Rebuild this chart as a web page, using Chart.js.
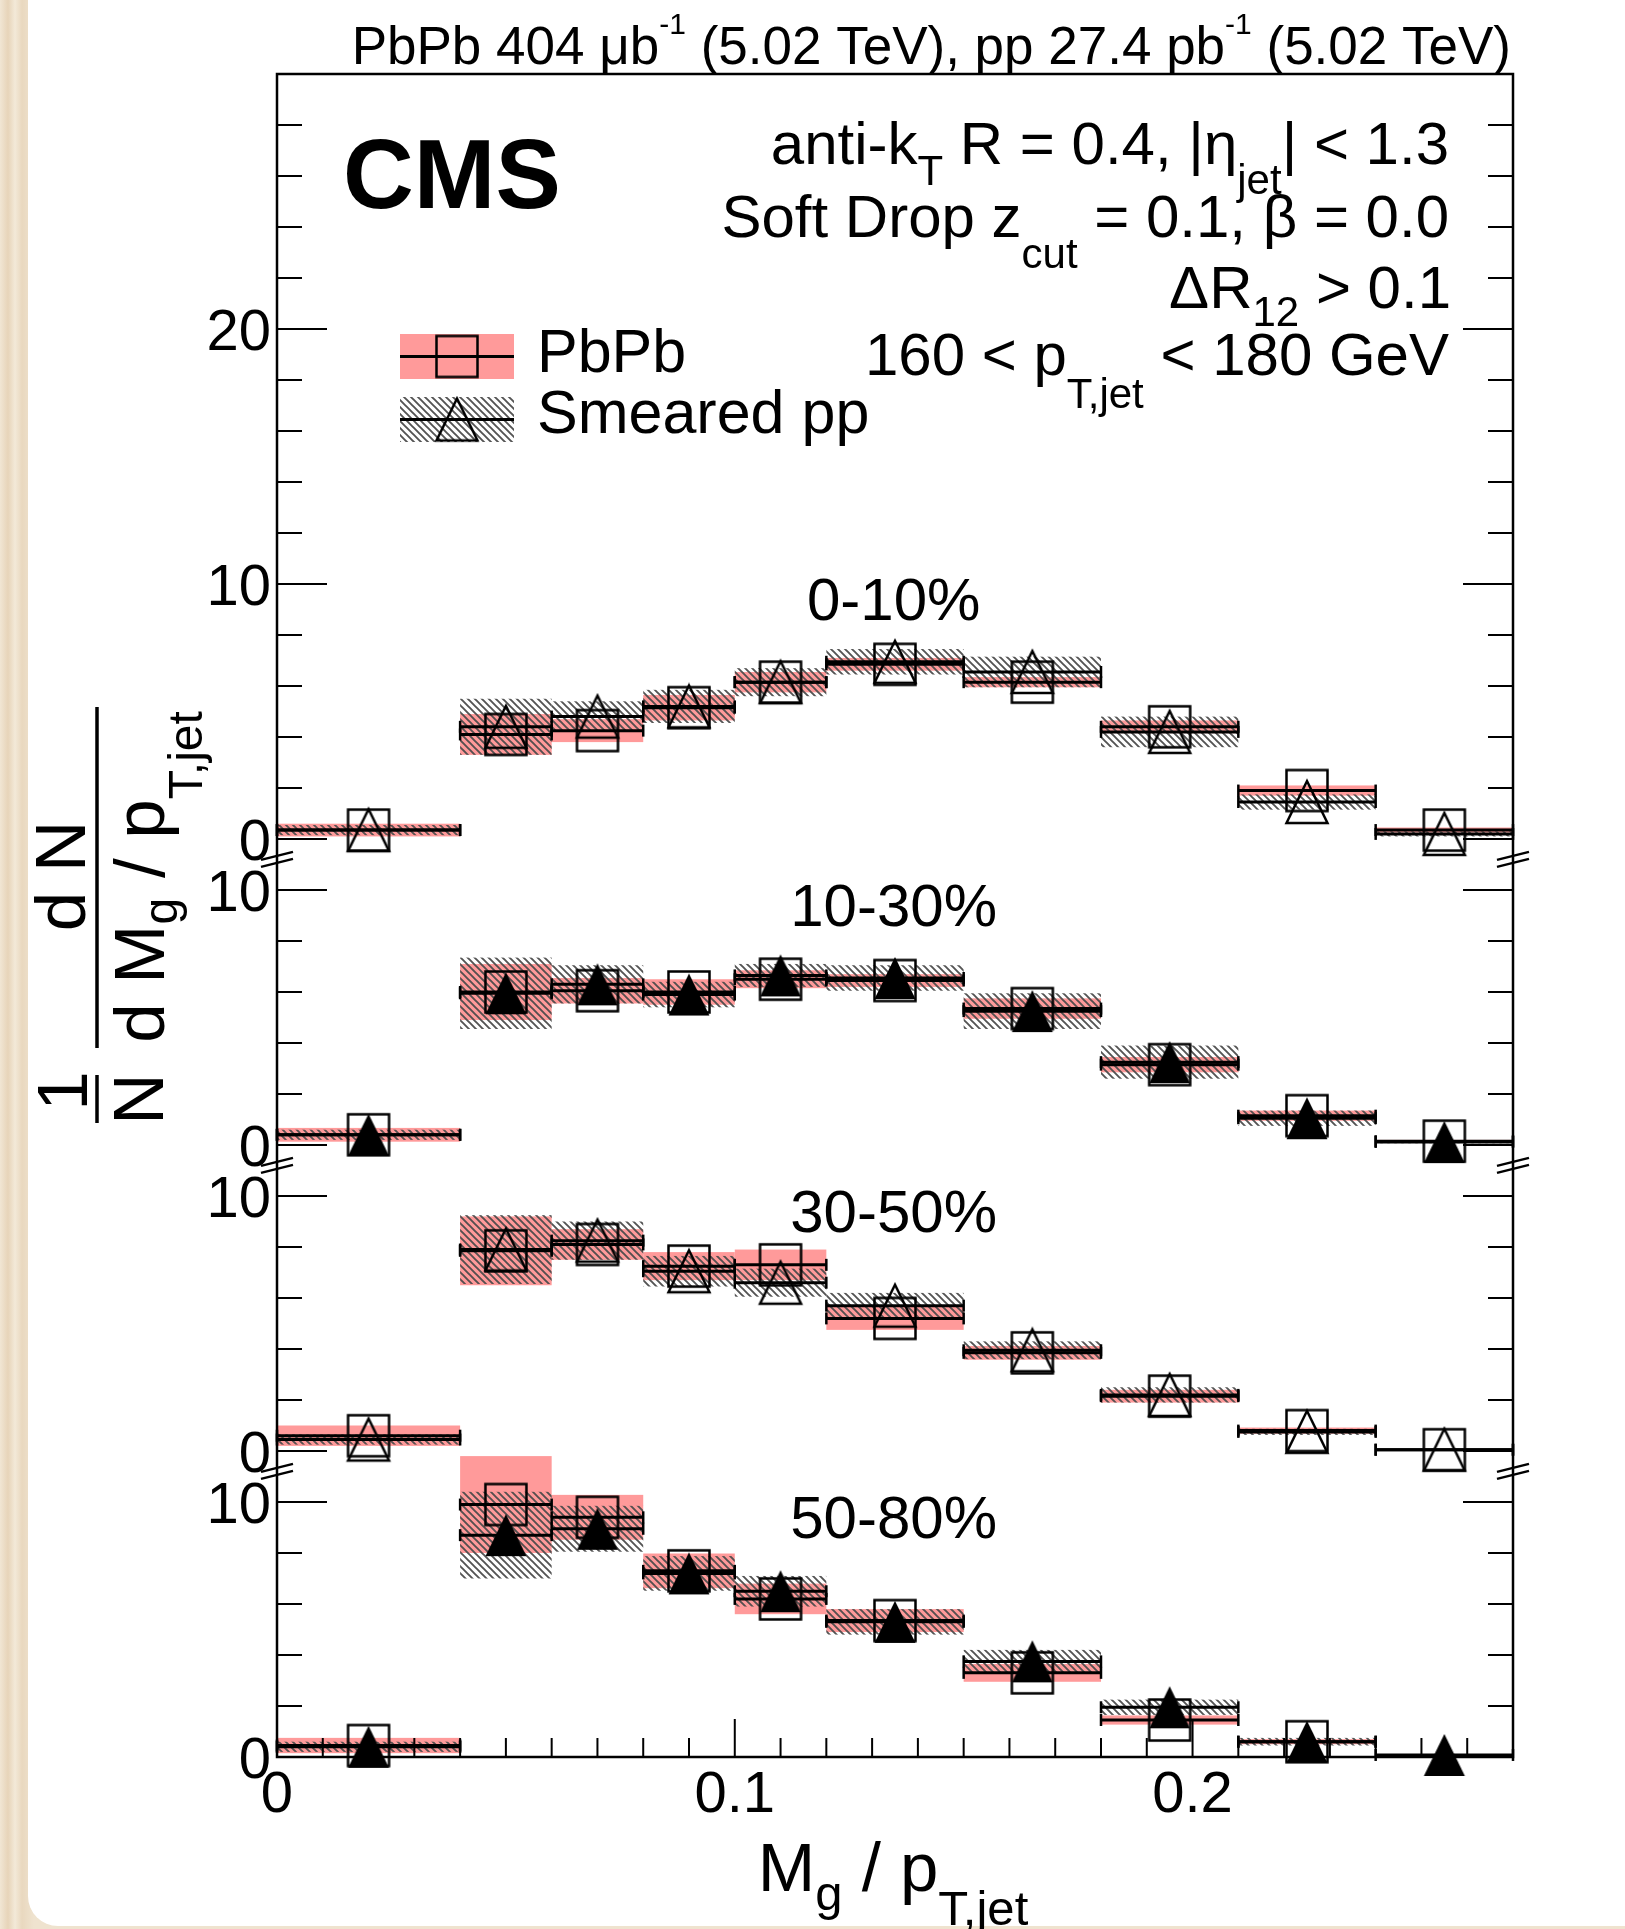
<!DOCTYPE html>
<html>
<head>
<meta charset="utf-8">
<title>Groomed jet mass: PbPb vs smeared pp</title>
<script src="https://cdn.jsdelivr.net/npm/chart.js@4.4.1/dist/chart.umd.min.js"></script>
<style>
  html, body { margin: 0; padding: 0; }
  body {
    width: 1625px; height: 1929px; position: relative; overflow: hidden;
    background: linear-gradient(90deg, #f1e6d4 0px, #e7d4b9 8px, #f3e9d8 15px, #e9d8bf 22px, #efe3cf 34px);
  }
  #card { position: absolute; left: 28px; top: 0; right: 0; bottom: 3px; background: #fff; border-bottom-left-radius: 30px; }
  #chart { position: absolute; left: 0; top: 0; }
</style>
</head>
<body>
<div id="card"></div>
<canvas id="chart" width="1625" height="1929"></canvas>
<script>
// Mg / pT,jet binning
const binEdges = [0, 0.04, 0.06, 0.08, 0.10, 0.12, 0.15, 0.18, 0.21, 0.24, 0.27];

const centralities = ["0-10%", "10-30%", "30-50%", "50-80%"];
// each centrality class sits on the shared y axis shifted by this much
const panelOffsets = [36, 24, 12, 0];
const lowerPanelTicks = [0, 10];
const topPanelTicks = [0, 10, 20];
const xTickValues = [0, 0.1, 0.2];
const xTickLabels = ["0", "0.1", "0.2"];

// 1/N dN/d(Mg/pT,jet), with systematic half-widths
const pbpb_0_10    = [0.35, 4.1, 4.25, 5.15, 6.15, 6.85, 6.15, 4.4, 1.9, 0.35];
const pbpbSys_0_10 = [0.25, 0.8, 0.45, 0.5, 0.4, 0.25, 0.2, 0.25, 0.2, 0.1];
const pp_0_10      = [0.35, 4.4, 4.8, 5.2, 6.15, 6.95, 6.55, 4.2, 1.45, 0.2];
const ppSys_0_10   = [0.2, 1.1, 0.6, 0.65, 0.55, 0.5, 0.6, 0.6, 0.3, 0.1];

const pbpb_10_30    = [0.4, 6.0, 6.05, 6.0, 6.5, 6.45, 5.35, 3.15, 1.15, 0.15];
const pbpbSys_10_30 = [0.27, 1.1, 0.5, 0.5, 0.35, 0.25, 0.4, 0.3, 0.2, 0.05];
const pp_10_30      = [0.4, 5.95, 6.3, 5.9, 6.65, 6.55, 5.25, 3.25, 1.05, 0.12];
const ppSys_10_30   = [0.2, 1.4, 0.75, 0.5, 0.45, 0.5, 0.7, 0.65, 0.3, 0.05];

const pbpb_30_50    = [0.6, 7.85, 8.1, 7.25, 7.3, 5.2, 3.85, 2.15, 0.8, 0.05];
const pbpbSys_30_50 = [0.4, 1.35, 0.6, 0.55, 0.6, 0.45, 0.27, 0.25, 0.12, 0.03];
const pp_30_50      = [0.45, 7.9, 8.25, 7.05, 6.6, 5.7, 3.95, 2.2, 0.75, 0.05];
const ppSys_30_50   = [0.2, 1.35, 0.75, 0.6, 0.55, 0.5, 0.35, 0.3, 0.12, 0.03];

const pbpb_50_80    = [0.45, 9.9, 9.4, 7.3, 6.2, 5.35, 3.3, 1.45, 0.6, null];
const pbpbSys_50_80 = [0.3, 1.9, 0.88, 0.68, 0.6, 0.45, 0.35, 0.18, 0.1, 0];
const pp_50_80      = [0.4, 8.7, 8.95, 7.2, 6.5, 5.3, 3.75, 1.95, 0.6, 0.08];
const ppSys_50_80   = [0.2, 1.7, 0.9, 0.68, 0.6, 0.5, 0.45, 0.3, 0.15, 0.03];

const panels = [
  { label: centralities[0], offset: panelOffsets[0], span: 30, filled: false, pbpb: pbpb_0_10, pbpbSys: pbpbSys_0_10, pp: pp_0_10, ppSys: ppSys_0_10 },
  { label: centralities[1], offset: panelOffsets[1], span: 12, filled: true, pbpb: pbpb_10_30, pbpbSys: pbpbSys_10_30, pp: pp_10_30, ppSys: ppSys_10_30 },
  { label: centralities[2], offset: panelOffsets[2], span: 12, filled: false, pbpb: pbpb_30_50, pbpbSys: pbpbSys_30_50, pp: pp_30_50, ppSys: ppSys_30_50 },
  { label: centralities[3], offset: panelOffsets[3], span: 12, filled: true, pbpb: pbpb_50_80, pbpbSys: pbpbSys_50_80, pp: pp_50_80, ppSys: ppSys_50_80 }
];

const binCenters = binEdges.slice(0, -1).map((e, i) => (e + binEdges[i + 1]) / 2);

const FONT = '"Liberation Sans", Arial, Helvetica, sans-serif';
const PINK = "#ff9a9a";

// --- marker images (ROOT-like open square / triangles) ---
function makeMarker(shape, filled) {
  const c = document.createElement("canvas");
  c.width = 48; c.height = 48;
  const g = c.getContext("2d");
  g.lineWidth = 2.5;
  g.strokeStyle = "#000";
  g.fillStyle = "#000";
  g.beginPath();
  if (shape === "square") {
    g.rect(3.5, 3.5, 41, 41);
  } else {
    g.moveTo(24, 3); g.lineTo(44.5, 45); g.lineTo(3.5, 45); g.closePath();
  }
  if (filled) g.fill(); else g.stroke();
  return c;
}
const squareMarker = makeMarker("square", false);
const openTriangle = makeMarker("triangle", false);
const fullTriangle = makeMarker("triangle", true);

function hatchPattern(ctx) {
  const c = document.createElement("canvas");
  c.width = 7; c.height = 7;
  const g = c.getContext("2d");
  g.strokeStyle = "rgba(75,75,75,0.95)";
  g.lineWidth = 1.9;
  g.beginPath();
  g.moveTo(-2, -2); g.lineTo(9, 9);
  g.moveTo(-2, 5); g.lineTo(2, 9);
  g.moveTo(5, -2); g.lineTo(9, 2);
  g.stroke();
  return ctx.createPattern(c, "repeat");
}

// text made of pieces: [text, size, dy, weight]
function drawParts(ctx, parts, x, y, align) {
  let total = 0;
  const widths = parts.map(p => {
    ctx.font = `${p[3] || "normal"} ${p[1]}px ${FONT}`;
    const w = ctx.measureText(p[0]).width;
    total += w;
    return w;
  });
  let cx = align === "right" ? x - total : align === "center" ? x - total / 2 : x;
  parts.forEach((p, i) => {
    ctx.font = `${p[3] || "normal"} ${p[1]}px ${FONT}`;
    ctx.fillText(p[0], cx, y + (p[2] || 0));
    cx += widths[i];
  });
}

function line(ctx, x0, y0, x1, y1) {
  ctx.beginPath(); ctx.moveTo(x0, y0); ctx.lineTo(x1, y1); ctx.stroke();
}

function drawBoxes(ctx, xs, ys, panel, vals, errs, fill) {
  const lo = ys.getPixelForValue(panel.offset);
  const hi = ys.getPixelForValue(panel.offset + panel.span);
  ctx.fillStyle = fill;
  vals.forEach((v, i) => {
    if (v == null || !errs[i]) return;
    const x0 = xs.getPixelForValue(binEdges[i]);
    const x1 = xs.getPixelForValue(binEdges[i + 1]);
    const yt = Math.max(ys.getPixelForValue(panel.offset + v + errs[i]), hi);
    const yb = Math.min(ys.getPixelForValue(panel.offset + v - errs[i]), lo);
    ctx.fillRect(x0, yt, x1 - x0, yb - yt);
  });
}

function drawBinLines(ctx, xs, ys, panel, vals) {
  ctx.strokeStyle = "#000";
  vals.forEach((v, i) => {
    if (v == null) return;
    const x0 = xs.getPixelForValue(binEdges[i]);
    const x1 = xs.getPixelForValue(binEdges[i + 1]);
    const py = ys.getPixelForValue(panel.offset + v);
    ctx.lineWidth = 3;
    line(ctx, x0, py, x1, py);
    ctx.lineWidth = 2.5;
    line(ctx, x0, py - 6, x0, py + 6);
    line(ctx, x1, py - 6, x1, py + 6);
  });
}

const cmsPlot = {
  id: "cmsPlot",
  beforeDatasetsDraw(chart) {
    const { ctx, scales: { x, y } } = chart;
    const hatch = hatchPattern(ctx);
    ctx.save();
    panels.forEach(p => drawBoxes(ctx, x, y, p, p.pbpb, p.pbpbSys, PINK));
    panels.forEach(p => drawBoxes(ctx, x, y, p, p.pp, p.ppSys, hatch));
    panels.forEach(p => { drawBinLines(ctx, x, y, p, p.pbpb); drawBinLines(ctx, x, y, p, p.pp); });
    ctx.restore();
  },
  afterDatasetsDraw(chart) {
    const { ctx, chartArea: { left, right, top, bottom }, scales: { x, y } } = chart;
    ctx.save();
    ctx.strokeStyle = "#000";
    ctx.fillStyle = "#000";

    // frame
    ctx.lineWidth = 2.5;
    ctx.strokeRect(left, top, right - left, bottom - top);

    // y ticks on both sides, every 2 units, long ones at multiples of 10
    ctx.lineWidth = 2;
    ctx.beginPath();
    panels.forEach(p => {
      for (let v = 0; v < p.span; v += 2) {
        const len = v % 10 === 0 ? 50 : 25;
        const py = y.getPixelForValue(p.offset + v);
        ctx.moveTo(left, py); ctx.lineTo(left + len, py);
        ctx.moveTo(right, py); ctx.lineTo(right - len, py);
      }
    });
    // x ticks every 0.01
    for (let k = 1; k < 27; k++) {
      const px = x.getPixelForValue(k / 100);
      const len = k % 10 === 0 ? 38 : 19;
      ctx.moveTo(px, bottom); ctx.lineTo(px, bottom - len);
    }
    ctx.stroke();

    // axis breaks between panels
    ctx.lineWidth = 2.5;
    panels.slice(1).forEach(p => {
      const py = y.getPixelForValue(p.offset + 11.2);
      [left, right].forEach(sx => {
        line(ctx, sx - 16, py + 0.5, sx + 16, py - 7.5);
        line(ctx, sx - 16, py + 7.5, sx + 16, py - 0.5);
      });
    });

    // y tick labels
    ctx.textBaseline = "alphabetic";
    panels.forEach((p, i) => {
      const ticks = i === 0 ? topPanelTicks : lowerPanelTicks;
      ticks.forEach(t => {
        drawParts(ctx, [[String(t), 58]], 271, y.getPixelForValue(p.offset + t) + 21, "right");
      });
    });

    // x tick labels
    xTickValues.forEach((v, i) => {
      drawParts(ctx, [[xTickLabels[i], 58]], x.getPixelForValue(v), 1812, "center");
    });

    // centrality labels
    panels.forEach(p => {
      drawParts(ctx, [[p.label, 60]], x.getPixelForValue(0.1347), y.getPixelForValue(p.offset + 8.6), "center");
    });

    // axis titles
    drawParts(ctx, [["M", 69], ["g", 49, 19], [" / p", 69], ["T,jet", 49, 34]], 893, 1891, "center");

    ctx.save();
    ctx.rotate(-Math.PI / 2);
    drawParts(ctx, [["d N", 71]], -876, 85, "center");
    drawParts(ctx, [["d M", 71], ["g", 48, 13], [" / p", 71], ["T,jet", 48, 38]], -877, 164, "center");
    drawParts(ctx, [["1", 71]], -1091, 87, "center");
    drawParts(ctx, [["N", 71]], -1099, 163, "center");
    ctx.restore();
    ctx.lineWidth = 3.5;
    line(ctx, 97, 707, 97, 1048);
    line(ctx, 97, 1075, 97, 1123);

    // header and labels
    drawParts(ctx, [["PbPb 404 \u03bcb", 53], ["-1", 30, -30], [" (5.02 TeV), pp 27.4 pb", 53], ["-1", 30, -30], [" (5.02 TeV)", 53]], 1511, 64, "right");
    drawParts(ctx, [["CMS", 98, 0, "bold"]], 343, 208, "left");
    drawParts(ctx, [["anti-k", 60], ["T", 42, 21], [" R = 0.4, |\u03b7", 60], ["jet", 42, 30], ["| < 1.3", 60]], 1449, 164, "right");
    drawParts(ctx, [["Soft Drop z", 60], ["cut", 42, 31], [" = 0.1, \u03b2 = 0.0", 60]], 1449, 237, "right");
    drawParts(ctx, [["\u0394R", 60], ["12", 42, 18], [" > 0.1", 60]], 1451, 308, "right");
    drawParts(ctx, [["160 < p", 60], ["T,jet", 42, 33], [" < 180 GeV", 60]], 1449, 375, "right");

    // legend
    ctx.fillStyle = PINK;
    ctx.fillRect(400, 334, 114, 45);
    ctx.fillStyle = hatchPattern(ctx);
    ctx.fillRect(400, 397, 114, 45);
    ctx.fillStyle = "#000";
    ctx.lineWidth = 3;
    line(ctx, 400, 356.5, 514, 356.5);
    line(ctx, 400, 419.5, 514, 419.5);
    ctx.drawImage(squareMarker, 457 - 24, 356.5 - 24);
    ctx.drawImage(openTriangle, 457 - 24, 419.5 - 24);
    drawParts(ctx, [["PbPb", 61]], 537, 372, "left");
    drawParts(ctx, [["Smeared pp", 61]], 537, 433, "left");

    ctx.restore();
  }
};

const datasets = [];
panels.forEach(p => {
  datasets.push({
    label: "PbPb " + p.label,
    data: p.pbpb.map((v, i) => v == null ? null : { x: binCenters[i], y: p.offset + v }).filter(Boolean),
    pointStyle: squareMarker,
    pointRadius: 20,
    clip: false
  });
  datasets.push({
    label: "Smeared pp " + p.label,
    data: p.pp.map((v, i) => ({ x: binCenters[i], y: p.offset + v })),
    pointStyle: p.filled ? fullTriangle : openTriangle,
    pointRadius: 20,
    clip: false
  });
});

new Chart(document.getElementById("chart"), {
  type: "scatter",
  data: { datasets },
  options: {
    responsive: false,
    animation: false,
    devicePixelRatio: 1,
    events: [],
    layout: { padding: { left: 277, right: 112, top: 74, bottom: 172 } },
    scales: {
      x: { type: "linear", min: 0, max: 0.27, display: false },
      y: { type: "linear", min: 0, max: 66, display: false }
    },
    plugins: { legend: { display: false }, tooltip: { enabled: false } }
  },
  plugins: [cmsPlot]
});
</script>
</body>
</html>
